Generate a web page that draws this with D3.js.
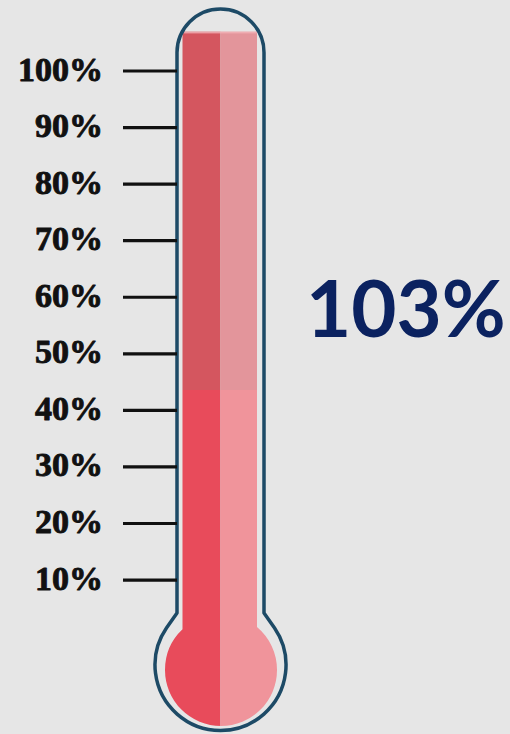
<!DOCTYPE html>
<html>
<head>
<meta charset="utf-8">
<script src="https://cdn.jsdelivr.net/npm/d3@7"></script>
<style>
  html, body { margin: 0; padding: 0; background: #e6e6e6; }
  svg { display: block; }
</style>
</head>
<body>
<div id="chart"></div>
<script>
// tick values shown on the left of the tube
const tickValues = [10, 20, 30, 40, 50, 60, 70, 80, 90, 100];
// headline figure
const headline = 103;
// fill levels (percent) : lower bright band and upper muted band
const fillLevels = [43.6, 107];
const fillNames = ["level", "overflow"];
const leftColors = ["#e84b5b", "#d4565f"];
const rightColors = ["#f0949b", "#e3959b"];

const width = 510, height = 734;
const cx = 220.5;

const svg = d3.select("#chart").append("svg")
    .attr("width", width)
    .attr("height", height);

svg.append("rect").attr("width", width).attr("height", height).attr("fill", "#e6e6e6");

const y = d3.scaleLinear().domain([0, 100]).range([636.6, 71]);

// clip = tube interior + bulb
const defs = svg.append("defs");
const clip = defs.append("clipPath").attr("id", "fillClip");
clip.append("rect")
    .attr("x", 182.5).attr("width", 74.5)
    .attr("y", y(fillLevels[1])).attr("height", 660 - y(fillLevels[1]));
clip.append("circle").attr("cx", 221).attr("cy", 670).attr("r", 56);

const g = svg.append("g").attr("clip-path", "url(#fillClip)");

const bands = fillLevels.map((v, i) => ({
    name: fillNames[i],
    top: y(v),
    bottom: i === 0 ? height : y(fillLevels[i - 1]),
    left: leftColors[i],
    right: rightColors[i]
}));

g.selectAll(".band-l").data(bands).enter().append("rect")
    .attr("x", 150).attr("width", cx - 150)
    .attr("y", d => d.top).attr("height", d => d.bottom - d.top)
    .attr("fill", d => d.left);
g.selectAll(".band-r").data(bands).enter().append("rect")
    .attr("x", cx).attr("width", 300 - cx)
    .attr("y", d => d.top).attr("height", d => d.bottom - d.top)
    .attr("fill", d => d.right);

// thin light strip at the top of the fill
g.append("rect")
    .attr("x", 150).attr("width", 150)
    .attr("y", y(fillLevels[1])).attr("height", 2)
    .attr("fill", "#f1b3b8").attr("opacity", 0.8);

// thermometer outline
const halfW = 43.5, topCy = 52.5, bulbCy = 665, bulbR = 65.5;
const jy = 613, ky = 628;
const kx = Math.sqrt(bulbR * bulbR - (bulbCy - ky) * (bulbCy - ky));
const path = d3.path();
path.moveTo(cx - halfW, jy);
path.lineTo(cx - halfW, topCy);
path.arc(cx, topCy, halfW, Math.PI, 0);
path.lineTo(cx + halfW, jy);
path.lineTo(cx + kx, ky);
const a0 = Math.atan2(ky - bulbCy, kx);
const a1 = Math.atan2(ky - bulbCy, -kx);
path.arc(cx, bulbCy, bulbR, a0, a1, false);
path.closePath();
svg.append("path")
    .attr("d", path.toString())
    .attr("fill", "none")
    .attr("stroke", "#1d4a66")
    .attr("stroke-width", 3.5)
    .attr("stroke-linejoin", "round");

// ticks and labels
const ticks = svg.selectAll(".tick").data(tickValues).enter().append("g")
    .attr("transform", d => `translate(0,${y(d)})`);
ticks.append("line")
    .attr("x1", 123).attr("x2", cx - halfW)
    .attr("stroke", "#111").attr("stroke-width", 3.2);
ticks.append("text")
    .attr("x", 103).attr("y", 9.5)
    .attr("text-anchor", "end")
    .attr("font-family", "'Liberation Serif', serif")
    .attr("font-weight", "bold")
    .attr("font-size", 34)
    .attr("fill", "#111")
    .attr("stroke", "#111")
    .attr("stroke-width", 0.9)
    .attr("stroke-linejoin", "round")
    .text(d => d + "%");

// headline figure
svg.append("text")
    .attr("x", 306).attr("y", 337)
    .attr("font-family", "Lato, sans-serif")
    .attr("font-weight", "bold")
    .attr("font-size", 78)
    .attr("fill", "#0b2260")
    .text(headline + "%");
</script>
</body>
</html>
